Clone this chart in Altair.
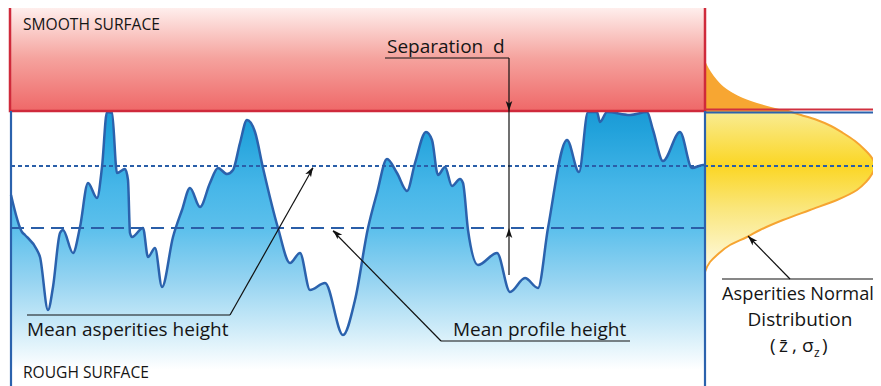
import altair as alt
import pandas as pd

# ---------------- data (reference pixel units, y grows downward) ----------------
profile_x = [11, 22, 25, 37, 40, 48, 53, 60, 63, 73, 80, 88, 97, 102, 107, 112, 117, 125, 128, 130,
             132, 143, 148, 155, 162, 173, 182, 190, 200, 210, 218, 227, 233, 240, 247, 255, 263, 278,
             290, 300, 310, 325, 343, 355, 368, 377, 387, 397, 407, 415, 426, 432, 438, 445, 452, 460,
             463, 468, 478, 497, 510, 525, 538, 548, 567, 579, 588, 597, 600, 607, 630, 647, 653, 663,
             680, 692, 703, 705]
profile_y = [195, 232, 235, 250, 257, 310, 287, 233, 230, 253, 227, 183, 198, 167, 112, 113, 173, 169, 180, 233,
             237, 228, 257, 248, 287, 237, 210, 188, 207, 183, 168, 174, 170, 143, 120, 132, 168, 228,
             263, 253, 290, 283, 335, 300, 228, 193, 159, 173, 191, 163, 132, 140, 175, 167, 186, 179,
             183, 230, 265, 253, 292, 278, 288, 228, 140, 172, 112, 112, 122, 112, 115, 112, 130, 161,
             132, 168, 165, 165]

# asperity height distribution (curve extent)
tail_y = [60, 65, 72, 80, 87, 93, 98, 103, 107, 111]
tail_x = [705, 707, 711, 717, 724, 733, 743, 757, 771, 788]
dist_y = [111, 115, 120, 126, 133, 141, 150, 158, 166, 174, 182, 190, 200, 210, 220, 230, 237, 245, 255, 262, 272]
dist_x = [788, 801, 817, 831, 843, 855, 865, 872, 875, 872, 866, 857, 837, 810, 783, 760, 747, 730, 717, 710, 705]

# levels
smooth_box = dict(x=10, x2=705, y=5, y2=111)
left_edge, right_edge, bottom_edge = 11, 705, 386
mean_asperity_level = 166
mean_profile_level = 228
dist_right = 877

# annotation leader lines
ann_x1 = [385, 509, 27, 230, 441, 441, 722, 790]
ann_y1 = [58, 58, 315, 315, 341, 341, 279, 279]
ann_x2 = [509, 509, 230, 313, 630, 333, 881, 748]
ann_y2 = [58, 275, 315, 168, 341, 231, 279, 236]

# arrow heads (tip position, direction)
tip_x = [509, 509, 313, 333, 748]
tip_y = [111, 228, 167, 230, 236]
tip_angle = [180, 0, 29.5, 315.5, 315.7]

# labels
lab_text = ["SMOOTH SURFACE", "ROUGH SURFACE", "Separation\u00a0 d", "Mean asperities height",
            "Mean profile height", "(", "z\u0304", ",", "\u03c3", "z", ")"]
lab_x = [23, 23, 387, 27, 453, 770, 779, 792, 802, 814, 822]
lab_y = [30, 378, 53, 336, 336, 352, 352, 352, 352, 357, 352]
lab_size = [15.6, 15.6, 19, 19, 19, 19, 19, 19, 19, 12, 19]

center_text = ["Asperities Normal", "Distribution"]
center_x = [798, 800]
center_y = [300, 326]
center_size = [18.2, 19]

# ---------------- chart ----------------
W, H = 865, 378
xs = alt.Scale(domain=[8, 873], nice=False, zero=False)
ys = alt.Scale(domain=[8, 386], nice=False, zero=False, reverse=True)


def X(f):
    return alt.X(f, type="quantitative", scale=xs, axis=None)


def Y(f):
    return alt.Y(f, type="quantitative", scale=ys, axis=None)


BLUE = "#2b62ad"
FONT = "Open Sans"

prof = pd.DataFrame({"x": profile_x, "y": profile_y})
tail = pd.DataFrame({"x": tail_x, "y": tail_y})
dist = pd.DataFrame({"x": dist_x, "y": dist_y})

blue_grad = alt.Gradient(
    gradient="linear", x1=0, y1=0, x2=0, y2=1,
    stops=[
        alt.GradientStop(color="#1b9ad6", offset=0),
        alt.GradientStop(color="#22a2db", offset=0.07),
        alt.GradientStop(color="#46b6e8", offset=0.27),
        alt.GradientStop(color="#5dc0ec", offset=0.43),
        alt.GradientStop(color="#94d3f1", offset=0.61),
        alt.GradientStop(color="#c4e7f7", offset=0.76),
        alt.GradientStop(color="#e8f6fc", offset=0.87),
        alt.GradientStop(color="#ffffff", offset=0.94),
        alt.GradientStop(color="#ffffff", offset=1),
    ],
)
red_grad = alt.Gradient(
    gradient="linear", x1=0, y1=0, x2=0, y2=1,
    stops=[
        alt.GradientStop(color="#fff3f1", offset=0),
        alt.GradientStop(color="#f5a39e", offset=0.5),
        alt.GradientStop(color="#ef6868", offset=1),
    ],
)
yellow_grad = alt.Gradient(
    gradient="linear", x1=0, y1=0, x2=0, y2=1,
    stops=[
        alt.GradientStop(color="#f9ec94", offset=0),
        alt.GradientStop(color="#fbd624", offset=0.34),
        alt.GradientStop(color="#fae67a", offset=0.6),
        alt.GradientStop(color="#fefbe8", offset=1),
    ],
)

area = alt.Chart(prof).mark_area(fill=blue_grad, interpolate="monotone").encode(
    x=X("x"), y=Y("y"), y2=alt.datum(bottom_edge)
)
line = alt.Chart(prof).mark_line(color=BLUE, strokeWidth=2.5, interpolate="monotone").encode(
    x=X("x"), y=Y("y")
)

tail_area = alt.Chart(tail).mark_area(orient="horizontal", fill="#f7a632", interpolate="monotone").encode(
    y=Y("y"), x=X("x"), x2=alt.datum(right_edge)
)
dist_area = alt.Chart(dist).mark_area(
    orient="horizontal", fill=yellow_grad, stroke="#f6a431", strokeWidth=2, interpolate="monotone"
).encode(y=Y("y"), x=X("x"), x2=alt.datum(right_edge))

box = alt.Chart(pd.DataFrame([smooth_box])).mark_rect(
    fill=red_grad, stroke="#cf2a3b", strokeWidth=2.5
).encode(x=X("x"), x2="x2", y=Y("y"), y2="y2")


def seg(df, **kw):
    return alt.Chart(pd.DataFrame(df)).mark_rule(**kw).encode(
        x=X("x"), y=Y("y"), x2="x2", y2="y2"
    )


red_line = seg([dict(x=right_edge, y=109.5, x2=dist_right, y2=109.5)], color="#d0303f", strokeWidth=2)
blue_line = seg([dict(x=right_edge, y=112.5, x2=dist_right, y2=112.5)], color=BLUE, strokeWidth=2)
borders = seg([dict(x=left_edge, y=111, x2=left_edge, y2=bottom_edge),
               dict(x=right_edge, y=111, x2=right_edge, y2=bottom_edge)], color=BLUE, strokeWidth=2.2)
dotted = seg([dict(x=left_edge, y=mean_asperity_level, x2=dist_right, y2=mean_asperity_level)],
             color="#2a5ea8", strokeWidth=2, strokeDash=[4, 3])
dashed = seg([dict(x=left_edge, y=mean_profile_level, x2=right_edge, y2=mean_profile_level)],
             color="#2a5ea8", strokeWidth=2, strokeDash=[13, 7])

ann = alt.Chart(pd.DataFrame({"x": ann_x1, "y": ann_y1, "x2": ann_x2, "y2": ann_y2})).mark_rule(
    color="#111111", strokeWidth=1.2
).encode(x=X("x"), y=Y("y"), x2="x2", y2="y2")

heads = alt.Chart(pd.DataFrame({"x": tip_x, "y": tip_y, "a": tip_angle})).mark_point(
    shape="M0,0 L0.6,1.8 L0,1.35 L-0.6,1.8 Z", filled=True, fill="#111111",
    opacity=1, size=121
).encode(x=X("x"), y=Y("y"), angle=alt.Angle("a:Q", scale=None))

labels = alt.Chart(pd.DataFrame({"t": lab_text, "x": lab_x, "y": lab_y, "s": lab_size})).mark_text(
    align="left", baseline="alphabetic", font=FONT, color="#151515"
).encode(x=X("x"), y=Y("y"), text="t:N", size=alt.Size("s:Q", scale=None))

clabels = alt.Chart(pd.DataFrame({"t": center_text, "x": center_x, "y": center_y, "s": center_size})).mark_text(
    align="center", baseline="alphabetic", font=FONT, color="#151515"
).encode(x=X("x"), y=Y("y"), text="t:N", size=alt.Size("s:Q", scale=None))

chart = alt.layer(
    area, tail_area, dist_area, line, box, red_line, blue_line, borders, dotted, dashed,
    ann, heads, labels, clabels
).properties(
    width=W, height=H, padding=0, autosize=alt.AutoSizeParams(type="none"), background="white"
).configure_view(strokeWidth=0)

chart.save("out.html", embed_options={"renderer": "svg", "actions": False})
